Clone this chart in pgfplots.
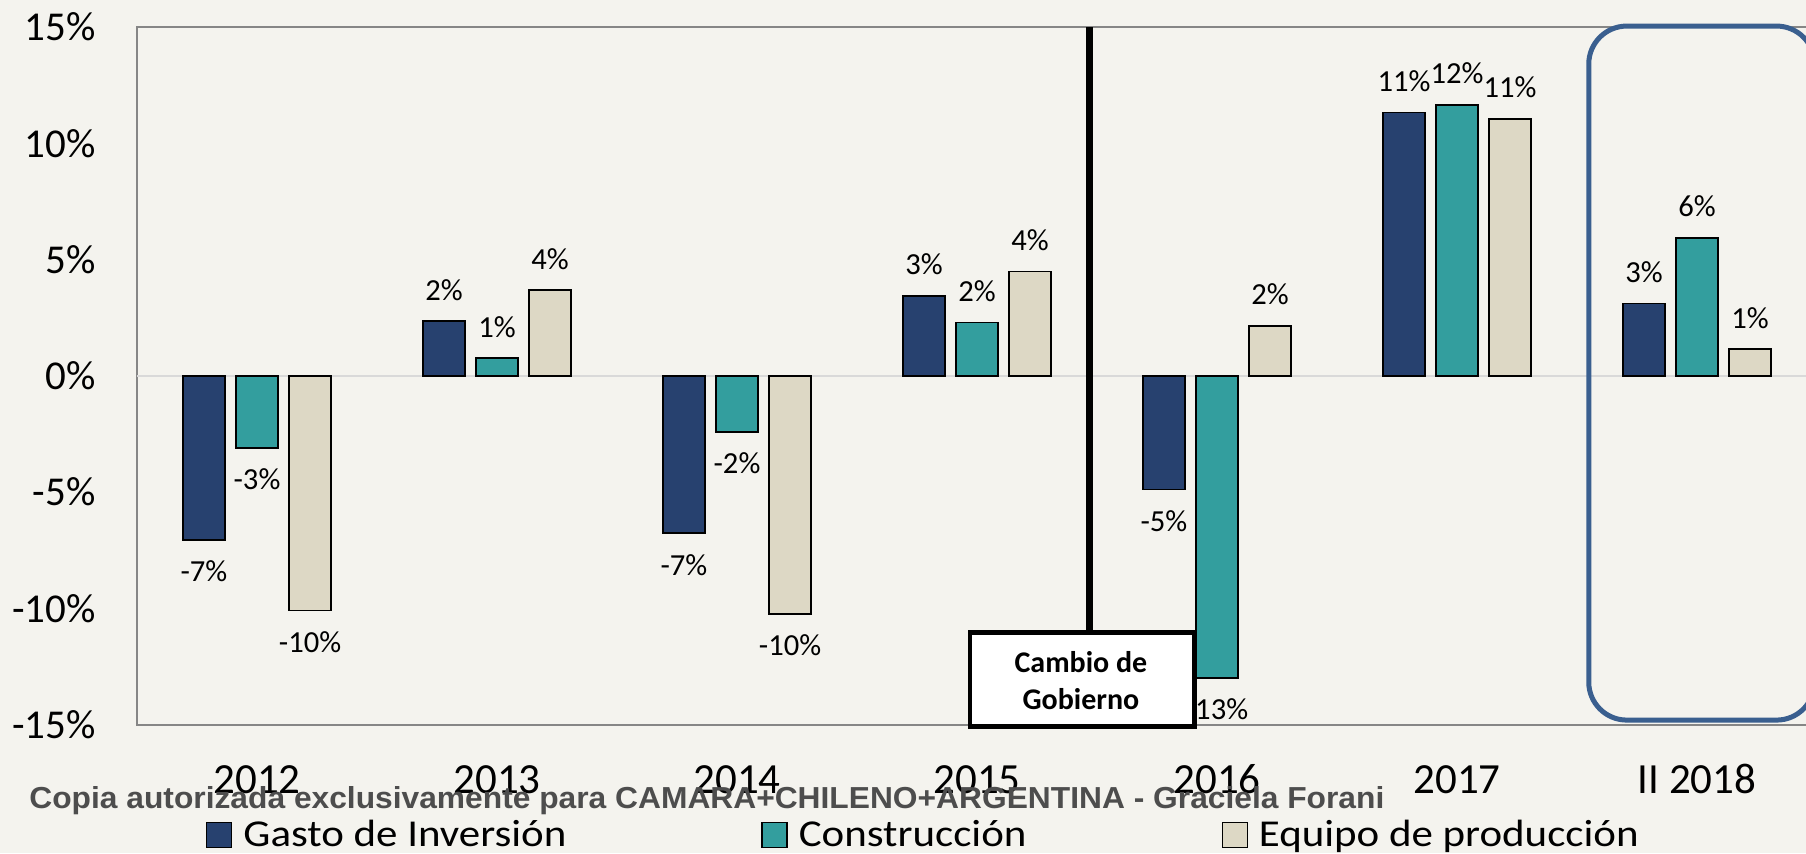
\documentclass[border=0pt]{standalone}
\usepackage{graphicx}
\usepackage{pgfplots}
\pgfplotsset{compat=1.18}
\usepackage{fontspec}
\setmainfont{Carlito}
\newfontfamily\wmfont{Liberation Sans}
\definecolor{bg}{RGB}{244,243,238}
\definecolor{navy}{RGB}{39,65,111}
\definecolor{teal2}{RGB}{51,158,158}
\definecolor{beige}{RGB}{221,216,197}
\definecolor{boxblue}{RGB}{58,95,143}
\definecolor{axgray}{RGB}{134,134,134}
\definecolor{zgray}{RGB}{217,217,217}
\definecolor{wmgray}{RGB}{77,77,77}
\newcommand{\legtxt}[1]{\scalebox{1.13}[1]{#1}}
\begin{document}
\begin{tikzpicture}
\fill[bg] (-68.5pt,-64.25pt) rectangle (834.5pt,362.25pt);
\begin{axis}[
  at={(0pt,0pt)}, anchor=south west,
  scale only axis, width=840pt, height=348.75pt,
  xmin=-0.5, xmax=6.5, ymin=-15, ymax=15,
  axis line style={axgray, line width=1pt},
  major tick length=0pt,
  xtick={0,...,6}, xticklabels={2012,2013,2014,2015,2016,2017,II 2018},
  ytick={-15,-10,...,15}, yticklabels={-15\%,-10\%,-5\%,0\%,5\%,10\%,15\%},
  xticklabel style={font=\fontsize{21.5}{24}\selectfont, anchor=base, inner sep=0pt, yshift=-34.25pt},
  yticklabel style={font=\fontsize{20.5}{24}\selectfont, anchor=east, inner sep=0pt, xshift=-20.5pt},
  ybar, bar width=0.175,
  clip=false,
  /pgf/number format/assume math mode=true,
  nodes near coords={\pgfmathprintnumber[fixed,precision=0]{\pgfplotspointmeta}\%},
  nodes near coords style={font=\fontsize{15.3}{18}\selectfont, inner ysep=10pt, inner xsep=0pt, text=black},
  legend columns=3,
  legend style={draw=none, fill=none, inner sep=0pt, outer sep=0pt,
    at={(0.04107,-0.15842)}, anchor=west,
    font=\fontsize{19}{24}\selectfont,
    nodes={inner sep=0pt},
    /tikz/every odd column/.append style={column sep=5.5pt},
    /tikz/every even column/.append style={column sep=97.5pt}},
  legend image code/.code={\draw[#1, draw=black, line width=0.7pt] (0pt,-6.25pt) rectangle (12.5pt,6.25pt);},
]
\draw[zgray, line width=1pt] (axis cs:-0.5,0) -- (axis cs:6.5,0);
\addplot[fill=navy, draw=black, line width=0.9pt, bar shift=-0.221] coordinates
  {(0,-7.07) (1,2.34) (2,-6.78) (3,3.43) (4,-4.89) (5,11.32) (6,3.11)};
\addplot[fill=teal2, draw=black, line width=0.9pt, bar shift=0] coordinates
  {(0,-3.11) (1,0.75) (2,-2.42) (3,2.29) (4,-13.0) (5,11.65) (6,5.94)};
\addplot[fill=beige, draw=black, line width=0.9pt, bar shift=0.221] coordinates
  {(0,-10.1) (1,3.68) (2,-10.24) (3,4.48) (4,2.14) (5,11.04) (6,1.14)};
\legend{\legtxt{Gasto de Inversión}, \legtxt{Construcción}, \legtxt{Equipo de producción}}
\coordinate (vtop) at (axis cs:3.469,15);
\coordinate (vbot) at (axis cs:3.469,-11.06);
\coordinate (bx1) at (axis cs:2.971,-11.06);
\coordinate (bx2) at (axis cs:3.907,-15.09);
\coordinate (btxt) at (axis cs:3.433,-13.11);
\coordinate (r1) at (axis cs:5.549,15.04);
\coordinate (r2) at (axis cs:6.49,-14.81);
\end{axis}
\draw[black, line width=3.8pt] (vtop) -- (vbot);
\draw[black, line width=2.4pt, fill=white] (bx1) rectangle (bx2);
\node[align=center, font=\bfseries\fontsize{15}{18.5}\selectfont] at (btxt) {Cambio de\\Gobierno};
\draw[boxblue, line width=2.5pt, rounded corners=19pt] (r1) rectangle (r2);
\node[anchor=base west, inner sep=0pt, text=wmgray] at (-54pt,-41.75pt)
  {\resizebox{677.5pt}{11pt}{\wmfont\bfseries Copia autorizada exclusivamente para CAMARA+CHILENO+ARGENTINA - Graciela Forani}};
\pgfresetboundingbox
\path[use as bounding box] (-68.5pt,-64.25pt) rectangle (834.5pt,362.25pt);
\end{tikzpicture}
\end{document}
